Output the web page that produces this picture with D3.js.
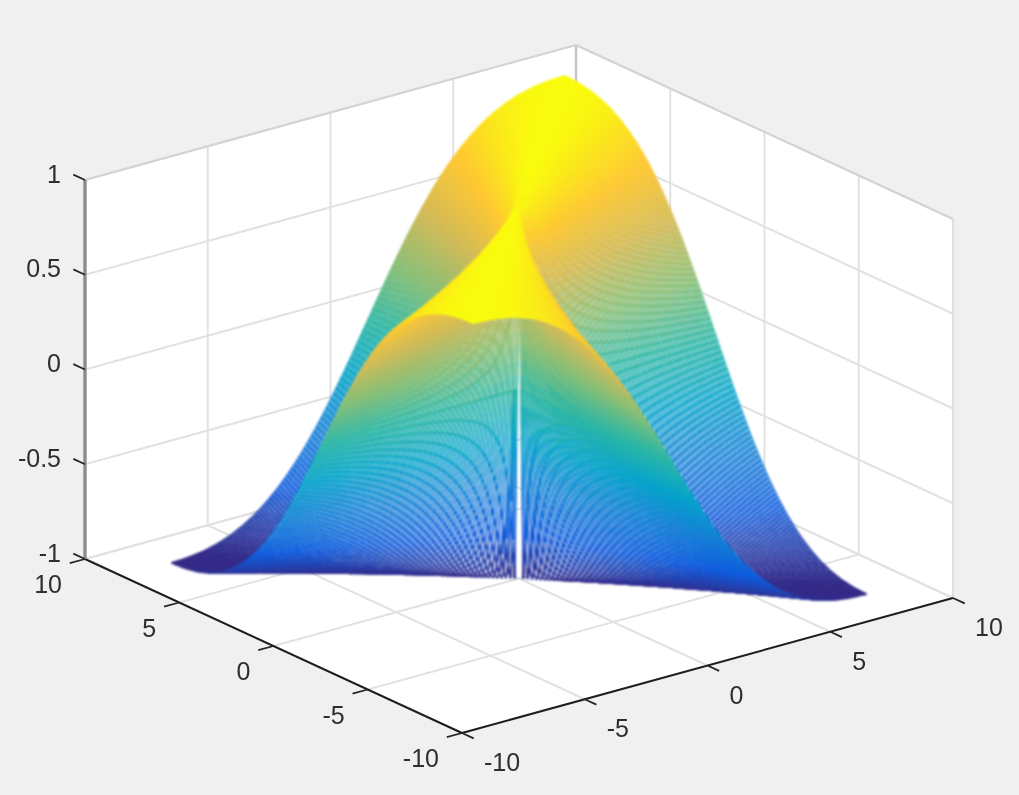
<!DOCTYPE html>
<html><head><meta charset="utf-8">
<style>html,body{margin:0;padding:0;background:#f0f0f0;overflow:hidden}svg{display:block}</style>
<script src="https://cdnjs.cloudflare.com/ajax/libs/d3/7.8.5/d3.min.js"></script>
</head><body>
<script>
// Surface height, as a function of the direction from the origin (degrees)
const angleDeg = [-90,-87.5,-85,-82.5,-80,-77.5,-75,-72.5,-70,-67.5,-65,-62.5,-60,-57.5,-55,-52.5,-50,-47.5,-45,-42.5,-40,-37.5,-35,-32.5,-30,-27.5,-25,-22.5,-20,-17.5,-15,-12.5,-10,-7.5,-5,-2.5,0,2.5,5,7.5,10,12.5,15,17.5,20,22.5,25,27.5,30,32.5,35,37.5,40,42.5,45,47.5,50,52.5,55,57.5,60,62.5,65,67.5,70,72.5,75,77.5,80,82.5,85,87.5,90];
const surfaceHeight = [0,-0.087,-0.174,-0.259,-0.342,-0.423,-0.5,-0.574,-0.643,-0.707,-0.766,-0.819,-0.866,-0.906,-0.94,-0.966,-0.985,-0.996,-1,-0.996,-0.985,-0.966,-0.94,-0.906,-0.866,-0.819,-0.766,-0.707,-0.643,-0.574,-0.5,-0.423,-0.342,-0.259,-0.174,-0.087,0,0.087,0.174,0.259,0.342,0.423,0.5,0.574,0.643,0.707,0.766,0.819,0.866,0.906,0.94,0.966,0.985,0.996,1,0.996,0.985,0.966,0.94,0.906,0.866,0.819,0.766,0.707,0.643,0.574,0.5,0.423,0.342,0.259,0.174,0.087,0];
// Mesh extent and spacing
const meshLimit = 8, meshStep = 0.1;
// Colormap stops
const colorStops = ["#352a87","#0f5cdd","#1481d6","#06a4ca","#2eb7a4","#87bf77","#d1bb59","#fec832","#f9fb0e"];
const xTicks = [-10,-5,0,5,10], yTicks = [-10,-5,0,5,10], zTicks = [-1,-0.5,0,0.5,1];

const W = 1019, H = 795;
const svg = d3.select("body").append("svg").attr("width",W).attr("height",H);
svg.append("rect").attr("width",W).attr("height",H).attr("fill","#f0f0f0");

const sx = d3.scaleLinear().domain([-10,10]).range([0,1]);
const sy = d3.scaleLinear().domain([-10,10]).range([0,1]);
const sz = d3.scaleLinear().domain([-1,1]).range([0,1]);
const O = [462,733], EX = [491,-135], EY = [-377,-174], EZ = [0,-379];
const proj = (x,y,z) => {const a=sx(x),b=sy(y),c=sz(z);return [O[0]+a*EX[0]+b*EY[0]+c*EZ[0], O[1]+a*EX[1]+b*EY[1]+c*EZ[1]];};
const depth = (x,y,z) => -0.528*sx(x)-0.687*sy(y)+0.5*sz(z);
const line = d3.line();

svg.append("path").attr("fill","#fff").attr("d",line([proj(-10,10,-1),proj(-10,-10,-1),proj(10,-10,-1),proj(10,-10,1),proj(10,10,1),proj(-10,10,1)])+"Z");

const gridG = svg.append("g").attr("fill","none").attr("stroke","#e2e2e2").attr("stroke-width",2).style("filter","blur(0.7px)");
const seg = (g,a,b,c,w) => {const p=g.append("path").attr("d",line([a,b])); if(c)p.attr("stroke",c); if(w)p.attr("stroke-width",w); return p;};
xTicks.forEach(t=>{ seg(gridG,proj(t,-10,-1),proj(t,10,-1)); seg(gridG,proj(t,10,-1),proj(t,10,1)); });
yTicks.forEach(t=>{ seg(gridG,proj(-10,t,-1),proj(10,t,-1)); seg(gridG,proj(10,t,-1),proj(10,t,1)); });
zTicks.forEach(t=>{ seg(gridG,proj(-10,10,t),proj(10,10,t)); seg(gridG,proj(10,10,t),proj(10,-10,t)); });
seg(gridG,proj(10,10,-1),proj(10,10,1),"#c4c4c4",2.4);
seg(gridG,proj(-10,10,1),proj(10,10,1),"#d4d4d4",2);
seg(gridG,proj(10,10,1),proj(10,-10,1),"#d4d4d4",2);
seg(gridG,proj(10,-10,-1),proj(10,-10,1),"#e0e0e0",2.2);

const toDeg = 180/Math.PI;
const heightAt = d3.scaleLinear().domain(angleDeg).range(surfaceHeight);
const colorAt = d3.scaleLinear().domain(d3.range(colorStops.length).map(i=>-1+2*i/(colorStops.length-1))).range(colorStops).interpolate(d3.interpolateRgb);
const n = Math.round(2*meshLimit/meshStep);
const nodeVal = i => -meshLimit + i*meshStep;
const nodeZ = (i,j) => {
  const cx=i-n/2, cy=j-n/2;
  if(cx===0&&cy===0) return NaN;
  if(cx===0) return heightAt(90);
  return heightAt(Math.atan(cy/cx)*toDeg);
};
const cells = [];
for(let i=0;i<n;i++)for(let j=0;j<n;j++){
  const corners=[[i,j],[i+1,j],[i+1,j+1],[i,j+1]];
  const zs=corners.map(c=>nodeZ(c[0],c[1]));
  if(zs.some(isNaN)) continue;
  const m=d3.mean(zs);
  const pts=corners.map((c,k)=>proj(nodeVal(c[0]),nodeVal(c[1]),zs[k]));
  const d0=depth(nodeVal(i+.5),nodeVal(j+.5),m);
  const range=d3.max(zs)-d3.min(zs);
  if(range<0.12){ cells.push({path:line(pts)+"Z",fill:"#fff",stroke:colorAt(m),d:d0,o:0}); continue; }
  // Steep cells near the origin: edge colour follows height along the edge
  cells.push({path:line(pts)+"Z",fill:"#fff",stroke:"none",d:d0,o:0});
  let o=1;
  for(let k=0;k<4;k++){
    const k2=(k+1)%4, z1=zs[k], z2=zs[k2], parts=Math.max(1,Math.ceil(Math.abs(z2-z1)/0.08));
    for(let s=0;s<parts;s++){
      const t1=s/parts,t2=(s+1)/parts;
      const a=[pts[k][0]+(pts[k2][0]-pts[k][0])*t1,pts[k][1]+(pts[k2][1]-pts[k][1])*t1];
      const b=[pts[k][0]+(pts[k2][0]-pts[k][0])*t2,pts[k][1]+(pts[k2][1]-pts[k][1])*t2];
      cells.push({path:line([a,b]),fill:"none",stroke:colorAt(z1+(z2-z1)*(t1+t2)/2),d:d0,o:o++});
    }
  }
}
cells.sort((a,b)=>a.d-b.d||a.o-b.o);
svg.append("g").attr("stroke-width",1.7).attr("stroke-linejoin","round").style("filter","blur(0.85px)")
  .selectAll("path").data(cells).join("path")
  .attr("d",c=>c.path).attr("fill",c=>c.fill).attr("stroke",c=>c.stroke);

const ax = svg.append("g").attr("fill","none").style("filter","blur(0.6px)");
seg(ax,proj(-10,10,-1),proj(-10,-10,-1),"#1e1e1e",2);
seg(ax,proj(-10,-10,-1),proj(10,-10,-1),"#1e1e1e",2);
seg(ax,proj(-10,10,-1),proj(-10,10,1),"#8c8c8c",3.4);
const tk = 0.62;
xTicks.forEach(t=>seg(ax,proj(t,-10,-1),proj(t,-10-tk,-1),"#262626",1.8));
yTicks.forEach(t=>seg(ax,proj(-10,t,-1),proj(-10-tk,t,-1),"#262626",1.8));
zTicks.forEach(t=>seg(ax,proj(-10,10,t),proj(-10,10+tk,t),"#262626",1.8));

const lab = svg.append("g").attr("font-family","'Liberation Sans',Arial,sans-serif").attr("font-size",25).attr("fill","#2e2e2e").style("filter","blur(0.6px)");
const put=(list,f,anchor)=>list.forEach(t=>{const p=f(t);lab.append("text").attr("x",p[0]).attr("y",p[1]).attr("text-anchor",anchor).text(t);});
put(zTicks,t=>{const p=proj(-10,10,t);return [p[0]-24,p[1]+2.5];},"end");
put(yTicks,t=>{const p=proj(-10,t,-1);return [p[0]-23,p[1]+34];},"end");
put(xTicks,t=>{const p=proj(t,-10,-1);return [p[0]+22,p[1]+38];},"start");
</script>
</body></html>
